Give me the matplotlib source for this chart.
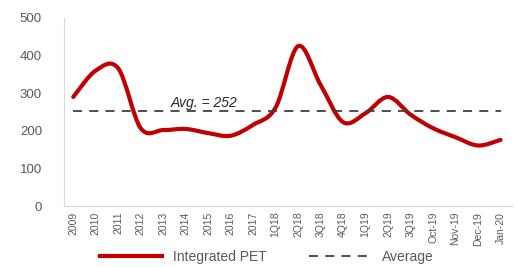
import numpy as np
import matplotlib.pyplot as plt
from matplotlib.path import Path
from matplotlib.patches import PathPatch
from matplotlib.lines import Line2D

periods = ["2009", "2010", "2011", "2012", "2013", "2014", "2015", "2016", "2017",
           "1Q18", "2Q18", "3Q18", "4Q18", "1Q19", "2Q19", "3Q19",
           "Oct-19", "Nov-19", "Dec-19", "Jan-20"]
integrated_pet = [290, 360, 366, 207, 202, 205, 194, 187, 216,
                  262, 425, 322, 223, 247, 290, 243,
                  207, 183, 161, 176]
average = 252

plt.rcParams['font.family'] = ['Liberation Sans', 'DejaVu Sans']

RED = "#C00000"
GREY = "#595959"


def smooth_path(xs, ys, t=0.5):
    # Excel-like smoothed line: cubic Bezier segments (Catmull-Rom tangents)
    n = len(xs)
    verts = [(xs[0], ys[0])]
    codes = [Path.MOVETO]
    for i in range(n - 1):
        x0, y0 = (xs[i - 1], ys[i - 1]) if i > 0 else (xs[i], ys[i])
        x1, y1 = xs[i], ys[i]
        x2, y2 = xs[i + 1], ys[i + 1]
        x3, y3 = (xs[i + 2], ys[i + 2]) if i + 2 < n else (x2, y2)
        c1 = (x1 + (x2 - x0) * t / 3, y1 + (y2 - y0) * t / 3)
        c2 = (x2 - (x3 - x1) * t / 3, y2 - (y3 - y1) * t / 3)
        verts += [c1, c2, (x2, y2)]
        codes += [Path.CURVE4] * 3
    return Path(verts, codes)


fig = plt.figure(figsize=(5.18, 2.67), dpi=100)
ax = fig.add_axes([0.124, 0.228, 0.864, 0.705])

x = np.arange(len(periods))
ax.add_patch(PathPatch(smooth_path(x, integrated_pet, t=0.5), facecolor="none",
                       edgecolor=RED, lw=3, capstyle="round", joinstyle="round"))
ax.plot([x[0], x[-1]], [average, average], color="#404040", lw=1.3,
        dashes=(5, 4))
ax.text(5.8, average + 4, f"Avg. = {average}", fontsize=10, style="italic",
        color="#262626", ha="center", va="bottom")

ax.set_xlim(-0.4, len(periods) - 0.5)
ax.set_ylim(0, 500)
ax.set_yticks(range(0, 501, 100))
ax.set_xticks(x)
ax.set_xticklabels(periods, rotation=90, fontsize=7.5, color=GREY)
ax.tick_params(axis="y", labelsize=9.5, colors=GREY, length=0, pad=16)
ax.tick_params(axis="x", length=0, pad=4)
for s in ["top", "right"]:
    ax.spines[s].set_visible(False)
for s in ["left", "bottom"]:
    ax.spines[s].set_color("#D9D9D9")

handles = [Line2D([], [], color=RED, lw=3),
           Line2D([], [], color="#404040", lw=1.3, dashes=(5, 4))]
fig.legend(handles, ["Integrated PET", "Average"], loc="center",
           bbox_to_anchor=(0.515, 0.038), ncol=2, frameon=False, fontsize=10,
           handlelength=4.5, columnspacing=3, labelcolor=GREY)

fig.savefig("out.png", dpi=100)
